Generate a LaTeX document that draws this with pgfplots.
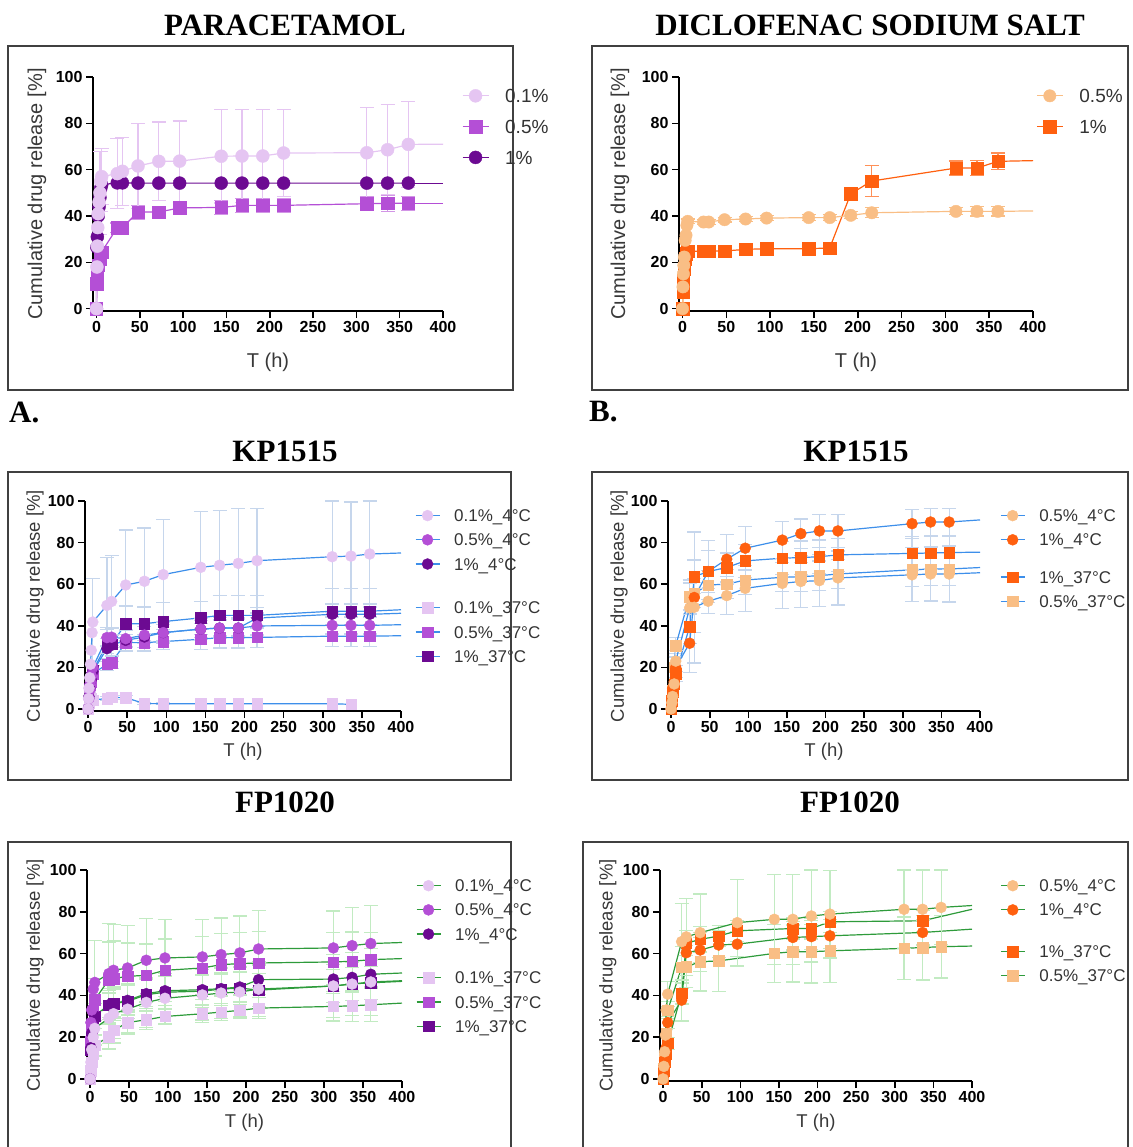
\documentclass[border=0pt]{standalone}
\usepackage{fontspec}
\setmainfont{Liberation Sans}
\newfontfamily\tnr{Liberation Serif}
\usepackage{pgfplots}
\pgfplotsset{compat=1.18}

\definecolor{cA}{HTML}{E5C5F2}
\definecolor{cB}{HTML}{B44FD6}
\definecolor{cC}{HTML}{6C0A92}
\definecolor{oA}{HTML}{F9BE85}
\definecolor{oB}{HTML}{FF600F}
\definecolor{bl}{HTML}{3D8FEA}
\definecolor{blE}{HTML}{C6D6EC}
\definecolor{gr}{HTML}{2E9B3B}
\definecolor{grE}{HTML}{C2EBC2}
\definecolor{frame}{HTML}{404040}

\pgfplotsset{
  prism/.style={
    scale only axis, xmin=-4, xmax=400, ymin=-1, ymax=100, clip=false,
    axis x line*=bottom, axis y line*=left,
    axis line style={line width=1.6pt, black, -},
    xtick={0,50,...,400}, ytick={0,20,...,100},
    tick align=outside, major tick length=7pt,
    tick style={line width=1.6pt, black},
    tick label style={font=\fontsize{16}{16}\selectfont\bfseries, text=black},
    /pgf/number format/assume math mode=true,
    xlabel={T (h)}, ylabel={Cumulative drug release [\%]},
    label style={text=black!78},
    xlabel style={at={(axis description cs:0.5,0)}, anchor=center},
    ylabel style={anchor=center},
    legend cell align=left,
  },
  bigleg/.style={
    label style={font=\fontsize{20}{20}\selectfont},
    legend style={draw=none, fill=none, anchor=north west, font=\fontsize{19}{19}\selectfont,
      row sep=17.2pt, column sep=16pt,
      nodes={inner sep=0pt, text height=13.6pt, text depth=0pt, text=black!80}},
    legend image code/.code={\draw[mark repeat=2,mark phase=2,##1] plot coordinates {(0pt,0pt) (13pt,0pt) (26pt,0pt)};},
  },
  smallleg/.style={
    label style={font=\fontsize{18.5}{18.5}\selectfont},
    legend style={draw=none, fill=none, anchor=north west, font=\fontsize{17}{17}\selectfont,
      row sep=12pt, column sep=14pt,
      nodes={inner sep=0pt, text height=12.2pt, text depth=0pt, text=black!80}},
    legend image code/.code={\draw[mark repeat=2,mark phase=2,##1] plot coordinates {(0pt,0pt) (12pt,0pt) (24pt,0pt)};},
  },
  ser/.style n args={4}{line width=1.2pt, color=#1, mark=#2, mark size=#4,
    mark options={solid, fill=#3, draw=#3, line width=0.4pt}},
  ext/.style={forget plot, mark=none, line width=1.2pt, color=#1},
  eb/.style={forget plot, draw=none, mark=none,
    /pgfplots/error bars/y dir=both, /pgfplots/error bars/y explicit,
    /pgfplots/error bars/error bar style={draw=#1, line width=1.2pt, solid},
    /pgfplots/error bars/error mark options={draw=#1, rotate=90, mark size=7pt, line width=1.2pt}},
}

\begin{document}
\begin{tikzpicture}
\path[use as bounding box] (0pt,0pt) rectangle (1132pt,-1147pt);

% frames
\draw[line width=1.4pt, frame] (8pt,-46pt) rectangle (513pt,-390pt);
\draw[line width=1.4pt, frame] (592pt,-46pt) rectangle (1128pt,-390pt);
\draw[line width=1.4pt, frame] (8pt,-472pt) rectangle (511pt,-780pt);
\draw[line width=1.4pt, frame] (592pt,-472pt) rectangle (1128pt,-780pt);
\draw[line width=1.4pt, frame] (8pt,-1160pt) -- (8pt,-842pt) -- (511pt,-842pt) -- (511pt,-1160pt);
\draw[line width=1.4pt, frame] (583pt,-1160pt) -- (583pt,-842pt) -- (1128pt,-842pt) -- (1128pt,-1160pt);

% titles
\begin{scope}[every node/.style={font=\tnr\bfseries\fontsize{31}{31}\selectfont, inner sep=0pt}]
\node at (285pt,-25pt) {PARACETAMOL};
\node at (870pt,-25pt) {DICLOFENAC SODIUM SALT};
\node[anchor=west] at (9pt,-412pt) {A.};
\node[anchor=west] at (589pt,-412pt) {B.};
\node at (285pt,-451pt) {KP1515};
\node at (856pt,-451pt) {KP1515};
\node at (285pt,-802pt) {FP1020};
\node at (850pt,-802pt) {FP1020};
\end{scope}

% ---------------- A: paracetamol (first data set drawn last, on top)
\begin{axis}[prism, bigleg, at={(93pt,-311pt)}, anchor=south west, width=350pt, height=234pt,
  xlabel style={yshift=-51pt}, ylabel style={at={(axis description cs:-0.16,0.5)}},
  legend style={at={(axis description cs:1.045,0.958)}}]
% 1%
\addplot[forget plot, ser={cC}{*}{cC}{6.5pt}] coordinates {(0,0) (0.5,26.5) (1,31) (2,40) (3,44) (4,48) (5,52) (6,53.5) (24,54.3) (30,54.3) (48,54.2) (72,54.2) (96,54.2) (144,54.2) (168,54.2) (192,54.2) (216,54.2) (312,54.2) (336,54.2) (360,54.2)};
\addplot[ext=cC] coordinates {(360,54.2) (400,54.2)};
% 0.5%
\addplot[eb=cB!60] coordinates {(24,35) +- (0,2) (30,35) +- (0,2) (48,41.7) +- (0,3) (72,41.7) +- (0,2.5) (96,43.5) +- (0,2.5) (144,43.7) +- (0,3) (168,44.6) +- (0,3) (192,44.6) +- (0,3) (216,44.6) +- (0,3) (312,45.3) +- (0,3) (336,45.5) +- (0,3.5) (360,45.5) +- (0,3)};
\addplot[forget plot, ser={cB}{square*}{cB}{6.2pt}] coordinates {(0,0) (0.5,10.8) (1,14.4) (2,18.7) (4,21.6) (6,24.5) (24,35) (30,35) (48,41.7) (72,41.7) (96,43.5) (144,43.7) (168,44.6) (192,44.6) (216,44.6) (312,45.3) (336,45.5) (360,45.5)};
\addplot[ext=cB] coordinates {(360,45.5) (400,45.5)};
% 0.1%
\addplot[eb=cA] coordinates {(4,50) +- (0,18) (5,55) +- (0,13) (6,57) +- (0,12) (24,58.3) +- (0,15) (30,59.3) +- (0,14.7) (48,61.6) +- (0,18.4) (72,63.6) +- (0,17) (96,63.7) +- (0,17.3) (144,65.8) +- (0,20.2) (168,65.9) +- (0,20.1) (192,65.9) +- (0,20.1) (216,67.2) +- (0,18.8) (312,67.3) +- (0,19.7) (336,68.6) +- (0,19.4) (360,70.9) +- (0,18.6)};
\addplot[forget plot, ser={cA}{*}{cA}{6.5pt}] coordinates {(0,0) (0.5,18) (1,27) (1.5,35) (2,41) (3,46) (4,50) (5,55) (6,57) (24,58.3) (30,59.3) (48,61.6) (72,63.6) (96,63.7) (144,65.8) (168,65.9) (192,65.9) (216,67.2) (312,67.3) (336,68.6) (360,70.9)};
\addplot[ext=cA] coordinates {(360,70.9) (400,71)};
\addlegendimage{ser={cA}{*}{cA}{6.5pt}}\addlegendentry{0.1\%}
\addlegendimage{ser={cB}{square*}{cB}{6.2pt}}\addlegendentry{0.5\%}
\addlegendimage{ser={cC}{*}{cC}{6.5pt}}\addlegendentry{1\%}
\end{axis}

% ---------------- B: diclofenac
\begin{axis}[prism, bigleg, at={(679pt,-311pt)}, anchor=south west, width=354pt, height=234pt,
  xlabel style={yshift=-51pt}, ylabel style={at={(axis description cs:-0.167,0.5)}},
  legend style={at={(axis description cs:1.0,0.958)}}]
% 1%
\addplot[eb=oB!70] coordinates {(6,24.9) +- (0,1) (24,24.7) +- (0,1) (30,24.9) +- (0,1) (48,24.9) +- (0,1) (72,25.6) +- (0,1) (96,25.9) +- (0,1) (144,25.9) +- (0,1) (168,26.2) +- (0,1) (192,49.6) +- (0,2) (216,55.1) +- (0,6.8) (312,60.7) +- (0,3) (336,60.7) +- (0,3.3) (360,63.6) +- (0,3.6)};
\addplot[forget plot, ser={oB}{square*}{oB}{6.2pt}] coordinates {(0,0) (0.5,7.2) (1,12.2) (2,17.3) (3,21.6) (4,23.7) (6,24.9) (24,24.7) (30,24.9) (48,24.9) (72,25.6) (96,25.9) (144,25.9) (168,26.2) (192,49.6) (216,55.1) (312,60.7) (336,60.7) (360,63.6)};
\addplot[ext=oB] coordinates {(360,63.6) (400,63.9)};
% 0.5%
\addplot[eb=oA] coordinates {(6,37.7) +- (0,1) (24,37.4) +- (0,1.2) (30,37.4) +- (0,1.2) (48,38.4) +- (0,1) (72,38.7) +- (0,1) (96,39.1) +- (0,1) (144,39.3) +- (0,1.2) (168,39.3) +- (0,1.2) (192,40.3) +- (0,1.5) (216,41.4) +- (0,2.2) (312,42) +- (0,1.5) (336,42) +- (0,2) (360,42) +- (0,2)};
\addplot[forget plot, ser={oA}{*}{oA}{6.2pt}] coordinates {(0,0) (0.5,9.4) (1,15) (1.5,18.7) (2,22.3) (3,29.5) (4,31.7) (5,36) (6,37.7) (24,37.4) (30,37.4) (48,38.4) (72,38.7) (96,39.1) (144,39.3) (168,39.3) (192,40.3) (216,41.4) (312,42) (336,42) (360,42)};
\addplot[ext=oA] coordinates {(360,42) (400,42.2)};
\addlegendimage{ser={oA}{*}{oA}{6.2pt}}\addlegendentry{0.5\%}
\addlegendimage{ser={oB}{square*}{oB}{6.2pt}}\addlegendentry{1\%}
\end{axis}

% ---------------- C: KP1515 paracetamol
\begin{axis}[prism, smallleg, at={(85pt,-711pt)}, anchor=south west, width=316pt, height=210pt,
  xlabel style={yshift=-41pt}, ylabel style={at={(axis description cs:-0.158,0.5)}},
  legend style={at={(axis description cs:1.034,0.97)}}]
% 1% 37C
\addplot[eb=blE] coordinates {(24,31) +- (0,8) (30,31) +- (0,8) (48,41) +- (0,8.5) (72,41) +- (0,8) (96,42) +- (0,9) (144,43.8) +- (0,8) (168,45) +- (0,9.5) (192,45) +- (0,9.5) (216,45) +- (0,9.5) (312,47) +- (0,11) (336,47) +- (0,11) (360,47) +- (0,11)};
\addplot[forget plot, ser={bl}{square*}{cC}{5.2pt}] coordinates {(0,0) (1,5) (2,10) (4,15) (6,18.5) (24,31) (30,31) (48,41) (72,41) (96,42) (144,43.8) (168,45) (192,45) (216,45) (312,47) (336,47) (360,47)};
\addplot[ext=bl] coordinates {(360,47) (400,47.7)};
% 0.5% 37C
\addplot[eb=blE] coordinates {(24,21.4) +- (0,3) (30,22.3) +- (0,3) (48,31.9) +- (0,4) (72,31.9) +- (0,4) (96,32.4) +- (0,4) (144,33.5) +- (0,5) (168,34.3) +- (0,5) (192,34.3) +- (0,5) (216,34.4) +- (0,5) (312,35) +- (0,5) (336,35) +- (0,5) (360,35) +- (0,5)};
\addplot[forget plot, ser={bl}{square*}{cB}{5.2pt}] coordinates {(0,0) (1,4) (2,8) (4,13) (6,17) (24,21.4) (30,22.3) (48,31.9) (72,31.9) (96,32.4) (144,33.5) (168,34.3) (192,34.3) (216,34.4) (312,35) (336,35) (360,35)};
\addplot[ext=bl] coordinates {(360,35) (400,35.2)};
% 0.1% 37C
\addplot[eb=blE] coordinates {(24,5) +- (0,1) (30,5.5) +- (0,1) (48,5.4) +- (0,1) (72,2.6) +- (0,0.5) (96,2.5) +- (0,0.5)};
\addplot[forget plot, ser={bl}{square*}{cA}{5.2pt}] coordinates {(0,0) (1,3) (2,6) (4,5) (6,4.3) (24,5) (30,5.5) (48,5.4) (72,2.6) (96,2.5) (144,2.5) (168,2.5) (192,2.5) (216,2.5) (312,2.5) (336,2.2)};
% 1% 4C
\addplot[eb=blE] coordinates {(24,29) +- (0,5) (30,30.6) +- (0,5) (48,33) +- (0,5) (72,34.6) +- (0,5) (96,36.7) +- (0,5) (144,38.4) +- (0,5) (168,38.9) +- (0,5) (192,38.9) +- (0,5) (216,43.7) +- (0,5) (312,45.5) +- (0,5) (336,45.5) +- (0,5) (360,45.5) +- (0,5)};
\addplot[forget plot, ser={bl}{*}{cC}{5.5pt}] coordinates {(0,0) (1,6) (2,10) (4,14) (6,18) (24,29) (30,30.6) (48,33) (72,34.6) (96,36.7) (144,38.4) (168,38.9) (192,38.9) (216,43.7) (312,45.5) (336,45.5) (360,45.5)};
\addplot[ext=bl] coordinates {(360,45.5) (400,46)};
% 0.5% 4C
\addplot[eb=blE] coordinates {(24,34.3) +- (0,4) (30,34.5) +- (0,4) (48,33.8) +- (0,4) (72,35.5) +- (0,4) (96,36.7) +- (0,4) (144,38.4) +- (0,4) (168,38.9) +- (0,4) (192,38.9) +- (0,4) (216,39.9) +- (0,4) (312,40.2) +- (0,4) (336,40.2) +- (0,4) (360,40.2) +- (0,4)};
\addplot[forget plot, ser={bl}{*}{cB}{5.5pt}] coordinates {(0,0) (1,5) (2,9) (3,13) (4,16) (6,20) (24,34.3) (30,34.5) (48,33.8) (72,35.5) (96,36.7) (144,38.4) (168,38.9) (192,38.9) (216,39.9) (312,40.2) (336,40.2) (360,40.2)};
\addplot[ext=bl] coordinates {(360,40.2) (400,40.5)};
% 0.1% 4C
\addplot[eb=blE] coordinates {(6,41.8) +- (0,21) (24,49.8) +- (0,23) (30,51.7) +- (0,22) (48,59.6) +- (0,26.5) (72,61.4) +- (0,25.6) (96,64.6) +- (0,26.4) (144,68.1) +- (0,27) (168,69.1) +- (0,26.4) (192,70) +- (0,26.5) (216,71.3) +- (0,25.2) (312,73.2) +- (0,26.8) (336,73.5) +- (0,26) (360,74.5) +- (0,25.5)};
\addplot[forget plot, ser={bl}{*}{cA}{5.5pt}] coordinates {(0,0) (0.5,5) (1,10) (2,15) (3,21.5) (4,28.2) (5,36.7) (6,41.8) (24,49.8) (30,51.7) (48,59.6) (72,61.4) (96,64.6) (144,68.1) (168,69.1) (192,70) (216,71.3) (312,73.2) (336,73.5) (360,74.5)};
\addplot[ext=bl] coordinates {(360,74.5) (400,75)};
\addlegendimage{ser={bl}{*}{cA}{5.5pt}}\addlegendentry{0.1\%\_4°C}
\addlegendimage{ser={bl}{*}{cB}{5.5pt}}\addlegendentry{0.5\%\_4°C}
\addlegendimage{ser={bl}{*}{cC}{5.5pt}}\addlegendentry{1\%\_4°C}
\addlegendimage{empty legend}\addlegendentry[text height=7.5pt]{}
\addlegendimage{ser={bl}{square*}{cA}{5.2pt}}\addlegendentry{0.1\%\_37°C}
\addlegendimage{ser={bl}{square*}{cB}{5.2pt}}\addlegendentry{0.5\%\_37°C}
\addlegendimage{ser={bl}{square*}{cC}{5.2pt}}\addlegendentry{1\%\_37°C}
\end{axis}

% ---------------- D: KP1515 diclofenac
\begin{axis}[prism, smallleg, at={(668pt,-711pt)}, anchor=south west, width=312pt, height=210pt,
  xlabel style={yshift=-41pt}, ylabel style={at={(axis description cs:-0.157,0.5)}},
  legend style={at={(axis description cs:1.054,0.97)}}]
% 0.5% 37C
\addplot[eb=blE] coordinates {(6,30.5) +- (0,4) (24,54) +- (0,8) (30,55.6) +- (0,7) (48,59.6) +- (0,7) (72,60) +- (0,7) (96,62) +- (0,7) (144,63.3) +- (0,7) (168,63.6) +- (0,7) (192,64.1) +- (0,7) (216,64.9) +- (0,7) (312,66.9) +- (0,8) (336,67.3) +- (0,8) (360,67.3) +- (0,8)};
\addplot[forget plot, ser={bl}{square*}{oA}{5.2pt}] coordinates {(0,0) (1,4) (2,9) (4,20) (6,30.5) (24,54) (30,55.6) (48,59.6) (72,60) (96,62) (144,63.3) (168,63.6) (192,64.1) (216,64.9) (312,66.9) (336,67.3) (360,67.3)};
\addplot[ext=bl] coordinates {(360,67.3) (400,68)};
% 1% 37C
\addplot[eb=blE] coordinates {(6,17) +- (0,4) (24,39.6) +- (0,8) (30,63.6) +- (0,8) (48,66.1) +- (0,10) (72,68) +- (0,7) (96,71.2) +- (0,8) (144,72.5) +- (0,8) (168,72.8) +- (0,8) (192,73.2) +- (0,8) (216,74.1) +- (0,8) (312,74.8) +- (0,8) (336,75) +- (0,8) (360,75.2) +- (0,8)};
\addplot[forget plot, ser={bl}{square*}{oB}{5.2pt}] coordinates {(0,0) (1,4) (2,8) (4,12) (6,17) (24,39.6) (30,63.6) (48,66.1) (72,68) (96,71.2) (144,72.5) (168,72.8) (192,73.2) (216,74.1) (312,74.8) (336,75) (360,75.2)};
\addplot[ext=bl] coordinates {(360,75.2) (400,75.4)};
% 1% 4C
\addplot[eb=blE] coordinates {(6,20) +- (0,5) (24,31.6) +- (0,14) (30,53.6) +- (0,31.5) (48,66.1) +- (0,15) (72,72) +- (0,12) (96,77.3) +- (0,10.5) (144,81.2) +- (0,9) (168,84.3) +- (0,7) (192,85.6) +- (0,8) (216,85.6) +- (0,8) (312,89.1) +- (0,7) (336,89.9) +- (0,6.5) (360,89.9) +- (0,6.5)};
\addplot[forget plot, ser={bl}{*}{oB}{5.5pt}] coordinates {(0,0) (1,5) (2,10) (4,13) (6,20) (24,31.6) (30,53.6) (48,66.1) (72,72) (96,77.3) (144,81.2) (168,84.3) (192,85.6) (216,85.6) (312,89.1) (336,89.9) (360,89.9)};
\addplot[ext=bl] coordinates {(360,89.9) (400,90.9)};
% 0.5% 4C
\addplot[eb=blE] coordinates {(6,23) +- (0,5) (24,48.6) +- (0,12) (30,48.9) +- (0,12) (48,51.8) +- (0,6) (72,54.5) +- (0,9) (96,58) +- (0,11) (144,60.4) +- (0,12) (168,61.3) +- (0,12.5) (192,61.7) +- (0,12.5) (216,63) +- (0,13) (312,64.5) +- (0,13) (336,64.9) +- (0,13) (360,64.9) +- (0,13.5)};
\addplot[forget plot, ser={bl}{*}{oA}{5.5pt}] coordinates {(0,0) (1,3) (2,6) (4,12) (6,23) (24,48.6) (30,48.9) (48,51.8) (72,54.5) (96,58) (144,60.4) (168,61.3) (192,61.7) (216,63) (312,64.5) (336,64.9) (360,64.9)};
\addplot[ext=bl] coordinates {(360,64.9) (400,65.5)};
\addlegendimage{ser={bl}{*}{oA}{5.5pt}}\addlegendentry{0.5\%\_4°C}
\addlegendimage{ser={bl}{*}{oB}{5.5pt}}\addlegendentry{1\%\_4°C}
\addlegendimage{empty legend}\addlegendentry[text height=0pt]{}
\addlegendimage{ser={bl}{square*}{oB}{5.2pt}}\addlegendentry{1\%\_37°C}
\addlegendimage{ser={bl}{square*}{oA}{5.2pt}}\addlegendentry{0.5\%\_37°C}
\end{axis}

% ---------------- E: FP1020 paracetamol
\begin{axis}[prism, smallleg, at={(87pt,-1081pt)}, anchor=south west, width=315pt, height=211pt,
  xlabel style={yshift=-42pt}, ylabel style={at={(axis description cs:-0.165,0.5)}},
  legend style={at={(axis description cs:1.034,0.965)}}]
% 1% 37C
\addplot[eb=grE] coordinates {(6,30) +- (0,6) (24,35.2) +- (0,8) (30,36) +- (0,8) (48,37.1) +- (0,8) (72,40.3) +- (0,8) (96,41.5) +- (0,8) (144,42) +- (0,8) (168,43) +- (0,8) (192,43.5) +- (0,8) (216,42.5) +- (0,8) (312,44.5) +- (0,8) (336,45.5) +- (0,8) (360,46) +- (0,8)};
\addplot[forget plot, ser={gr}{square*}{cC}{5.2pt}] coordinates {(0,0) (1,14) (2,20) (4,26) (6,30) (24,35.2) (30,36) (48,37.1) (72,40.3) (96,41.5) (144,42) (168,43) (192,43.5) (216,42.5) (312,44.5) (336,45.5) (360,46)};
\addplot[ext=gr] coordinates {(360,46) (400,46.7)};
% 0.5% 37C
\addplot[eb=grE] coordinates {(6,37.9) +- (0,10) (24,47.5) +- (0,18) (30,48) +- (0,18) (48,49.1) +- (0,16) (72,49.6) +- (0,15) (96,52) +- (0,15) (144,53.1) +- (0,15) (168,54.7) +- (0,15) (192,55.2) +- (0,15) (216,55.5) +- (0,15) (312,56) +- (0,14) (336,56.3) +- (0,14) (360,57.1) +- (0,13)};
\addplot[forget plot, ser={gr}{square*}{cB}{5.2pt}] coordinates {(0,0) (1,18) (2,25) (4,33) (6,37.9) (24,47.5) (30,48) (48,49.1) (72,49.6) (96,52) (144,53.1) (168,54.7) (192,55.2) (216,55.5) (312,56) (336,56.3) (360,57.1)};
\addplot[ext=gr] coordinates {(360,57.1) (400,57.6)};
% 0.1% 37C
\addplot[eb=grE] coordinates {(6,16) +- (0,5) (24,20.3) +- (0,6) (30,23.2) +- (0,6) (48,27) +- (0,5) (72,28.3) +- (0,4.5) (96,29.9) +- (0,4) (144,31.2) +- (0,4) (168,32) +- (0,4) (192,32.8) +- (0,4) (216,33.9) +- (0,5) (312,34.7) +- (0,7) (336,35) +- (0,7.5) (360,35.5) +- (0,8)};
\addplot[forget plot, ser={gr}{square*}{cA}{5.2pt}] coordinates {(0,0) (1,4) (2,8) (4,12) (6,16) (24,20.3) (30,23.2) (48,27) (72,28.3) (96,29.9) (144,31.2) (168,32) (192,32.8) (216,33.9) (312,34.7) (336,35) (360,35.5)};
\addplot[ext=gr] coordinates {(360,35.5) (400,36.3)};
% 1% 4C
\addplot[eb=grE] coordinates {(6,30.2) +- (0,6) (24,35.5) +- (0,7) (30,36) +- (0,7) (48,37.6) +- (0,7) (72,40.8) +- (0,7) (96,42.2) +- (0,7) (144,42.7) +- (0,7) (168,43.2) +- (0,7) (192,44) +- (0,7) (216,47.5) +- (0,7) (312,47.8) +- (0,7) (336,48.6) +- (0,7) (360,50.1) +- (0,7)};
\addplot[forget plot, ser={gr}{*}{cC}{5.5pt}] coordinates {(0,0) (1,15) (2,22) (4,27) (6,30.2) (24,35.5) (30,36) (48,37.6) (72,40.8) (96,42.2) (144,42.7) (168,43.2) (192,44) (216,47.5) (312,47.8) (336,48.6) (360,50.1)};
\addplot[ext=gr] coordinates {(360,50.1) (400,50.7)};
% 0.5% 4C
\addplot[eb=grE] coordinates {(6,46.2) +- (0,20) (24,50.4) +- (0,24) (30,52) +- (0,22) (48,53.1) +- (0,20.5) (72,56.8) +- (0,20) (96,57.9) +- (0,18.5) (144,58.4) +- (0,18) (168,59.5) +- (0,17.5) (192,60.3) +- (0,17.7) (216,62.2) +- (0,18.5) (312,62.7) +- (0,17.7) (336,63.8) +- (0,18.2) (360,64.8) +- (0,18.2)};
\addplot[forget plot, ser={gr}{*}{cB}{5.5pt}] coordinates {(0,0) (1,27) (2,33) (4,43) (6,46.2) (24,50.4) (30,52) (48,53.1) (72,56.8) (96,57.9) (144,58.4) (168,59.5) (192,60.3) (216,62.2) (312,62.7) (336,63.8) (360,64.8)};
\addplot[ext=gr] coordinates {(360,64.8) (400,65.3)};
% 0.1% 4C
\addplot[eb=grE] coordinates {(6,24.2) +- (0,8) (24,29.1) +- (0,12) (30,31.2) +- (0,12) (48,33.4) +- (0,12) (72,36.6) +- (0,12) (96,38.6) +- (0,12) (144,40.2) +- (0,12) (168,41.1) +- (0,12) (192,41.6) +- (0,12) (216,43) +- (0,13) (312,44.5) +- (0,15) (336,45.4) +- (0,15) (360,46.4) +- (0,16)};
\addplot[forget plot, ser={gr}{*}{cA}{5.5pt}] coordinates {(0,0) (1,8) (2,14) (4,20) (6,24.2) (24,29.1) (30,31.2) (48,33.4) (72,36.6) (96,38.6) (144,40.2) (168,41.1) (192,41.6) (216,43) (312,44.5) (336,45.4) (360,46.4)};
\addplot[ext=gr] coordinates {(360,46.4) (400,47)};
\addlegendimage{ser={gr}{*}{cA}{5.5pt}}\addlegendentry{0.1\%\_4°C}
\addlegendimage{ser={gr}{*}{cB}{5.5pt}}\addlegendentry{0.5\%\_4°C}
\addlegendimage{ser={gr}{*}{cC}{5.5pt}}\addlegendentry{1\%\_4°C}
\addlegendimage{empty legend}\addlegendentry[text height=7.5pt]{}
\addlegendimage{ser={gr}{square*}{cA}{5.2pt}}\addlegendentry{0.1\%\_37°C}
\addlegendimage{ser={gr}{square*}{cB}{5.2pt}}\addlegendentry{0.5\%\_37°C}
\addlegendimage{ser={gr}{square*}{cC}{5.2pt}}\addlegendentry{1\%\_37°C}
\end{axis}

% ---------------- F: FP1020 diclofenac
\begin{axis}[prism, smallleg, at={(660pt,-1081pt)}, anchor=south west, width=312pt, height=211pt,
  xlabel style={yshift=-42pt}, ylabel style={at={(axis description cs:-0.167,0.5)}},
  legend style={at={(axis description cs:1.08,0.965)}}]
% 0.5% 37C
\addplot[eb=grE] coordinates {(6,32.9) +- (0,4) (24,53.4) +- (0,10) (30,53.7) +- (0,10) (48,56.1) +- (0,14) (72,56.5) +- (0,14.5) (144,60.1) +- (0,14) (168,60.9) +- (0,14.5) (192,60.9) +- (0,15) (216,61.3) +- (0,15) (312,62.5) +- (0,15) (336,62.9) +- (0,15.5) (360,63.3) +- (0,15)};
\addplot[forget plot, ser={gr}{square*}{oA}{5.2pt}] coordinates {(0,0) (1,5) (2,10) (4,22) (6,32.9) (24,53.4) (30,53.7) (48,56.1) (72,56.5) (144,60.1) (168,60.9) (192,60.9) (216,61.3) (312,62.5) (336,62.9) (360,63.3)};
\addplot[ext=gr] coordinates {(360,63.3) (400,63.6)};
% 1% 37C
\addplot[eb=grE] coordinates {(6,17) +- (0,3) (24,40.9) +- (0,5) (30,64.9) +- (0,6) (48,66.8) +- (0,6) (72,68.4) +- (0,5) (96,70.9) +- (0,5) (168,72) +- (0,5) (192,72) +- (0,5) (216,75.2) +- (0,5) (336,75.7) +- (0,5)};
\addplot[forget plot, ser={gr}{square*}{oB}{5.2pt}] coordinates {(0,0) (1,4) (2,8) (4,12) (6,17) (24,40.9) (30,64.9) (48,66.8) (72,68.4) (96,70.9) (168,72) (192,72) (216,75.2) (336,75.7)};
\addplot[ext=gr] coordinates {(336,75.7) (400,81.2)};
% 1% 4C
\addplot[eb=grE] coordinates {(6,27) +- (0,3) (24,37.7) +- (0,10) (30,60.4) +- (0,6) (48,61.7) +- (0,6) (72,64.1) +- (0,6) (96,64.5) +- (0,6) (168,67.7) +- (0,6) (192,68.1) +- (0,6) (216,68.5) +- (0,6) (336,70.1) +- (0,6)};
\addplot[forget plot, ser={gr}{*}{oB}{5.5pt}] coordinates {(0,0) (1,5) (2,9) (4,15) (6,27) (24,37.7) (30,60.4) (48,61.7) (72,64.1) (96,64.5) (168,67.7) (192,68.1) (216,68.5) (336,70.1)};
\addplot[ext=gr] coordinates {(336,70.1) (400,71.7)};
% 0.5% 4C
\addplot[eb=grE] coordinates {(6,40.6) +- (0,6) (24,65.7) +- (0,18.3) (30,68) +- (0,18.5) (48,70) +- (0,18.5) (96,74.8) +- (0,20.7) (144,76.4) +- (0,21.6) (168,76.4) +- (0,21.6) (192,78) +- (0,22) (216,78.9) +- (0,21) (312,81.2) +- (0,18.8) (336,81.2) +- (0,18.8) (360,82.1) +- (0,17.9)};
\addplot[forget plot, ser={gr}{*}{oA}{5.5pt}] coordinates {(0,0) (1,6) (2,13) (3,21) (4,33) (6,40.6) (24,65.7) (30,68) (48,70) (96,74.8) (144,76.4) (168,76.4) (192,78) (216,78.9) (312,81.2) (336,81.2) (360,82.1)};
\addplot[ext=gr] coordinates {(360,82.1) (400,83)};
\addlegendimage{ser={gr}{*}{oA}{5.5pt}}\addlegendentry{0.5\%\_4°C}
\addlegendimage{ser={gr}{*}{oB}{5.5pt}}\addlegendentry{1\%\_4°C}
\addlegendimage{empty legend}\addlegendentry[text height=5.5pt]{}
\addlegendimage{ser={gr}{square*}{oB}{5.2pt}}\addlegendentry{1\%\_37°C}
\addlegendimage{ser={gr}{square*}{oA}{5.2pt}}\addlegendentry{0.5\%\_37°C}
\end{axis}
\end{tikzpicture}
\end{document}
